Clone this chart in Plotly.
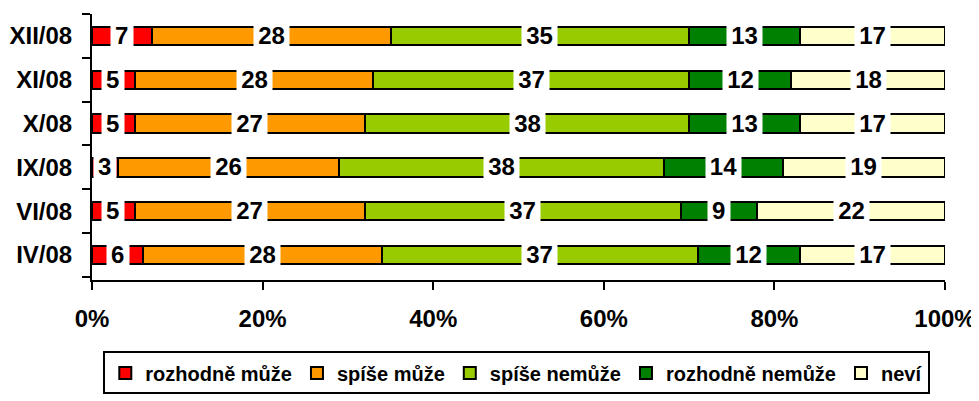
import plotly.graph_objects as go

categories = ["IV/08", "VI/08", "IX/08", "X/08", "XI/08", "XII/08"]
series_names = ["rozhodně může", "spíše může", "spíše nemůže", "rozhodně nemůže", "neví"]
rozhodne_muze = [6, 5, 3, 5, 5, 7]
spise_muze = [28, 27, 26, 27, 28, 28]
spise_nemuze = [37, 37, 38, 38, 37, 35]
rozhodne_nemuze = [12, 9, 14, 13, 12, 13]
nevi = [17, 22, 19, 17, 18, 17]
colors = ["#FF0000", "#FF9900", "#99CC00", "#008000", "#FFFFCC"]
x_tickvals = [0, 20, 40, 60, 80, 100]
x_ticktext = ["0%", "20%", "40%", "60%", "80%", "100%"]

series = [rozhodne_muze, spise_muze, spise_nemuze, rozhodne_nemuze, nevi]
FONT = "Liberation Sans, Arial, sans-serif"

# page body has a default 8px margin; compensate so the plot lands where the reference is
W, H = 971, 393

fig = go.Figure()
for name, vals, col in zip(series_names, series, colors):
    fig.add_trace(go.Bar(
        y=categories, x=vals, name=name, orientation="h",
        marker=dict(color=col, line=dict(color="black", width=2)),
        hoverinfo="x+y",
    ))

annotations = []
for i, cat in enumerate(categories):
    start = 0
    for vals in series:
        v = vals[i]
        label = str(v)
        annotations.append(dict(
            x=start + v / 2, y=cat, xref="x", yref="y",
            text="<b>%s</b>" % label, showarrow=False,
            font=dict(family=FONT, size=24, color="black"),
            bgcolor="white", borderpad=0,
            width=len(label) * 13.5 + 8, height=38,
            valign="top", yanchor="top", yshift=15,
        ))
        start += v

fig.update_layout(
    barmode="stack",
    bargap=0.58,
    width=W, height=H,
    margin=dict(l=84, r=34, t=6, b=115),
    plot_bgcolor="white", paper_bgcolor="white",
    font=dict(family=FONT, size=17, color="black"),
    annotations=annotations,
    showlegend=True,
    legend=dict(
        orientation="h", x=0.498, xanchor="center", y=-0.43, yanchor="bottom",
        bordercolor="black", borderwidth=2,
        font=dict(family=FONT, size=20, color="black", weight="bold"),
        traceorder="normal", itemwidth=30,
        tracegroupgap=0,
    ),
    xaxis=dict(
        range=[0, 100], tickvals=x_tickvals, ticktext=x_ticktext,
        showgrid=False, zeroline=False,
        showline=True, linecolor="black", linewidth=2,
        ticks="outside", ticklen=8, tickwidth=2, tickcolor="black",
        tickfont=dict(family=FONT, size=24, color="black", weight="bold"),
        ticklabelstandoff=8,
        automargin=False, fixedrange=True,
    ),
    yaxis=dict(
        categoryorder="array", categoryarray=categories,
        showgrid=False, zeroline=False,
        showline=True, linecolor="black", linewidth=2,
        ticks="outside", ticklen=8, tickwidth=2, tickcolor="black",
        tickson="boundaries",
        tickfont=dict(family=FONT, size=24, color="black", weight="bold"),
        ticklabelstandoff=13,
        automargin=False, fixedrange=True,
    ),
)

fig.write_html("out.html")
